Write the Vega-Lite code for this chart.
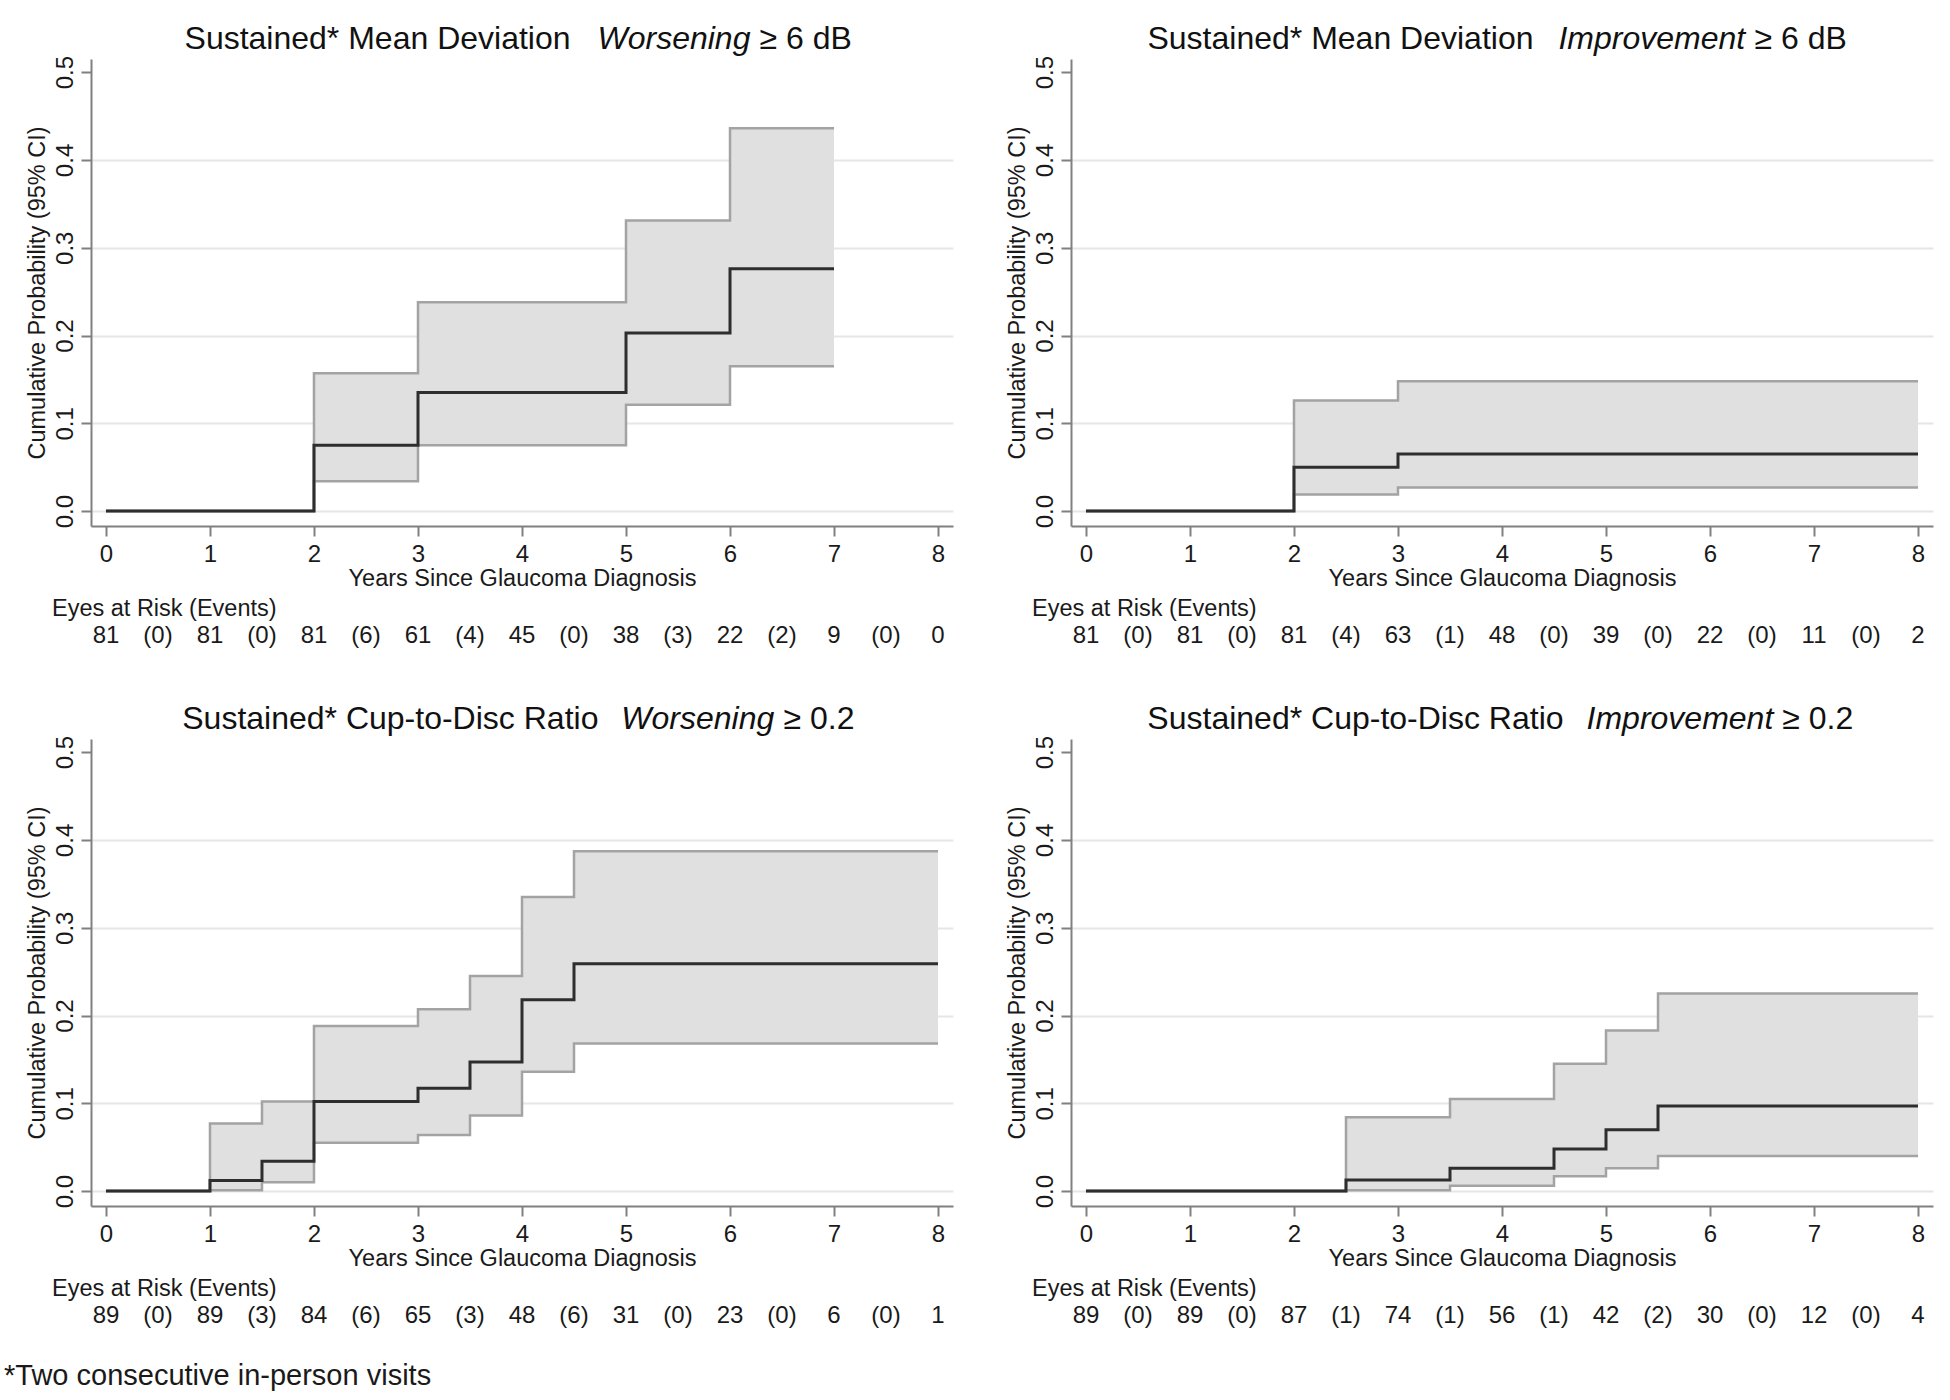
{
  "$schema": "https://vega.github.io/schema/vega-lite/v6.json",
  "background": "white",
  "padding": {"left": 4, "top": 22, "right": 5, "bottom": 10},
  "datasets": {
    "curves": [
      {"panel": "MDW", "t": 0, "est": 0, "lo": 0, "hi": 0},
      {"panel": "MDW", "t": 2, "est": 0.075, "lo": 0.034, "hi": 0.157},
      {"panel": "MDW", "t": 3, "est": 0.135, "lo": 0.075, "hi": 0.238},
      {"panel": "MDW", "t": 5, "est": 0.203, "lo": 0.121, "hi": 0.331},
      {"panel": "MDW", "t": 6, "est": 0.276, "lo": 0.165, "hi": 0.436},
      {"panel": "MDW", "t": 7, "est": 0.276, "lo": 0.165, "hi": 0.436},
      {"panel": "MDI", "t": 0, "est": 0, "lo": 0, "hi": 0},
      {"panel": "MDI", "t": 2, "est": 0.05, "lo": 0.019, "hi": 0.126},
      {"panel": "MDI", "t": 3, "est": 0.065, "lo": 0.027, "hi": 0.148},
      {"panel": "MDI", "t": 8, "est": 0.065, "lo": 0.027, "hi": 0.148},
      {"panel": "CDW", "t": 0, "est": 0, "lo": 0, "hi": 0},
      {"panel": "CDW", "t": 1, "est": 0.012, "lo": 0.001, "hi": 0.077},
      {"panel": "CDW", "t": 1.5, "est": 0.034, "lo": 0.010, "hi": 0.102},
      {"panel": "CDW", "t": 2, "est": 0.102, "lo": 0.055, "hi": 0.188},
      {"panel": "CDW", "t": 3, "est": 0.117, "lo": 0.064, "hi": 0.207},
      {"panel": "CDW", "t": 3.5, "est": 0.147, "lo": 0.086, "hi": 0.245},
      {"panel": "CDW", "t": 4, "est": 0.218, "lo": 0.136, "hi": 0.335},
      {"panel": "CDW", "t": 4.5, "est": 0.259, "lo": 0.168, "hi": 0.387},
      {"panel": "CDW", "t": 8, "est": 0.259, "lo": 0.168, "hi": 0.387},
      {"panel": "CDI", "t": 0, "est": 0, "lo": 0, "hi": 0},
      {"panel": "CDI", "t": 2.5, "est": 0.0126, "lo": 0.001, "hi": 0.084},
      {"panel": "CDI", "t": 3.5, "est": 0.026, "lo": 0.006, "hi": 0.105},
      {"panel": "CDI", "t": 4.5, "est": 0.048, "lo": 0.017, "hi": 0.145},
      {"panel": "CDI", "t": 5, "est": 0.070, "lo": 0.026, "hi": 0.183},
      {"panel": "CDI", "t": 5.5, "est": 0.097, "lo": 0.040, "hi": 0.225},
      {"panel": "CDI", "t": 8, "est": 0.097, "lo": 0.040, "hi": 0.225}
    ],
    "risk": [
      {"panel": "MDW", "t": 0, "n": "81"}, {"panel": "MDW", "t": 0.5, "n": "(0)"},
      {"panel": "MDW", "t": 1, "n": "81"}, {"panel": "MDW", "t": 1.5, "n": "(0)"},
      {"panel": "MDW", "t": 2, "n": "81"}, {"panel": "MDW", "t": 2.5, "n": "(6)"},
      {"panel": "MDW", "t": 3, "n": "61"}, {"panel": "MDW", "t": 3.5, "n": "(4)"},
      {"panel": "MDW", "t": 4, "n": "45"}, {"panel": "MDW", "t": 4.5, "n": "(0)"},
      {"panel": "MDW", "t": 5, "n": "38"}, {"panel": "MDW", "t": 5.5, "n": "(3)"},
      {"panel": "MDW", "t": 6, "n": "22"}, {"panel": "MDW", "t": 6.5, "n": "(2)"},
      {"panel": "MDW", "t": 7, "n": "9"}, {"panel": "MDW", "t": 7.5, "n": "(0)"},
      {"panel": "MDW", "t": 8, "n": "0"},
      {"panel": "MDI", "t": 0, "n": "81"}, {"panel": "MDI", "t": 0.5, "n": "(0)"},
      {"panel": "MDI", "t": 1, "n": "81"}, {"panel": "MDI", "t": 1.5, "n": "(0)"},
      {"panel": "MDI", "t": 2, "n": "81"}, {"panel": "MDI", "t": 2.5, "n": "(4)"},
      {"panel": "MDI", "t": 3, "n": "63"}, {"panel": "MDI", "t": 3.5, "n": "(1)"},
      {"panel": "MDI", "t": 4, "n": "48"}, {"panel": "MDI", "t": 4.5, "n": "(0)"},
      {"panel": "MDI", "t": 5, "n": "39"}, {"panel": "MDI", "t": 5.5, "n": "(0)"},
      {"panel": "MDI", "t": 6, "n": "22"}, {"panel": "MDI", "t": 6.5, "n": "(0)"},
      {"panel": "MDI", "t": 7, "n": "11"}, {"panel": "MDI", "t": 7.5, "n": "(0)"},
      {"panel": "MDI", "t": 8, "n": "2"},
      {"panel": "CDW", "t": 0, "n": "89"}, {"panel": "CDW", "t": 0.5, "n": "(0)"},
      {"panel": "CDW", "t": 1, "n": "89"}, {"panel": "CDW", "t": 1.5, "n": "(3)"},
      {"panel": "CDW", "t": 2, "n": "84"}, {"panel": "CDW", "t": 2.5, "n": "(6)"},
      {"panel": "CDW", "t": 3, "n": "65"}, {"panel": "CDW", "t": 3.5, "n": "(3)"},
      {"panel": "CDW", "t": 4, "n": "48"}, {"panel": "CDW", "t": 4.5, "n": "(6)"},
      {"panel": "CDW", "t": 5, "n": "31"}, {"panel": "CDW", "t": 5.5, "n": "(0)"},
      {"panel": "CDW", "t": 6, "n": "23"}, {"panel": "CDW", "t": 6.5, "n": "(0)"},
      {"panel": "CDW", "t": 7, "n": "6"}, {"panel": "CDW", "t": 7.5, "n": "(0)"},
      {"panel": "CDW", "t": 8, "n": "1"},
      {"panel": "CDI", "t": 0, "n": "89"}, {"panel": "CDI", "t": 0.5, "n": "(0)"},
      {"panel": "CDI", "t": 1, "n": "89"}, {"panel": "CDI", "t": 1.5, "n": "(0)"},
      {"panel": "CDI", "t": 2, "n": "87"}, {"panel": "CDI", "t": 2.5, "n": "(1)"},
      {"panel": "CDI", "t": 3, "n": "74"}, {"panel": "CDI", "t": 3.5, "n": "(1)"},
      {"panel": "CDI", "t": 4, "n": "56"}, {"panel": "CDI", "t": 4.5, "n": "(1)"},
      {"panel": "CDI", "t": 5, "n": "42"}, {"panel": "CDI", "t": 5.5, "n": "(2)"},
      {"panel": "CDI", "t": 6, "n": "30"}, {"panel": "CDI", "t": 6.5, "n": "(0)"},
      {"panel": "CDI", "t": 7, "n": "12"}, {"panel": "CDI", "t": 7.5, "n": "(0)"},
      {"panel": "CDI", "t": 8, "n": "4"}
    ]
  },
  "title": {"text": "*Two consecutive in-person visits", "orient": "bottom", "anchor": "start", "frame": "bounds", "fontSize": 29, "dx": -21, "offset": 33},
  "spacing": 53,
  "vconcat": [
    {
      "spacing": 52,
      "hconcat": [
        {
          "spacing": 6,
          "vconcat": [
            {
              "width": 862, "height": 467,
              "data": {"name": "curves"},
              "transform": [{"filter": "datum.panel == 'MDW'"}],
              "resolve": {"axis": {"x": "independent"}},
              "layer": [
                {
                  "mark": {"type": "area", "interpolate": "step-after", "color": "#e0e0e0"},
                  "encoding": {
                    "x": {"field": "t", "type": "quantitative", "scale": {"domain": [-0.144, 8.144], "nice": false, "zero": false},
                      "axis": {"orient": "top", "values": [4.462, 4.721, 6.279], "labelExpr": "datum.value < 4.6 ? 'Sustained* Mean Deviation' : datum.value < 5.5 ? 'Worsening' : '≥ 6 dB'", "labelAlign": {"condition": {"test": "datum.value < 4.6", "value": "right"}, "value": "left"}, "labelFontStyle": {"condition": {"test": "datum.value > 4.6 && datum.value < 5.5", "value": "italic"}, "value": "normal"}, "labelFontSize": 32, "labelLimit": 0, "labelColor": "#111111", "labelBaseline": "alphabetic", "labelPadding": 11, "labelFlush": false, "labelOverlap": false, "labelBound": false, "domain": false, "ticks": false, "tickSize": 0, "grid": false, "title": null}},
                    "y": {"field": "hi", "type": "quantitative", "scale": {"domain": [-0.017, 0.515], "nice": false, "zero": false}, "title": "Cumulative Probability (95% CI)",
                      "axis": {"values": [0, 0.1, 0.2, 0.3, 0.4, 0.5], "format": ".1f", "labelAngle": 270, "labelAlign": "center", "labelBaseline": "bottom", "labelFontSize": 24, "labelPadding": 4, "tickSize": 10, "grid": true, "gridColor": {"condition": {"test": "datum.value > 0.45", "value": "rgba(0,0,0,0)"}, "value": "#e6e6e6"}, "gridWidth": 2, "titleFontSize": 23.5, "titlePadding": 4, "labelFlush": false, "labelOverlap": false}},
                    "y2": {"field": "lo"}
                  }
                },
                {
                  "mark": {"type": "line", "interpolate": "step-after", "color": "#a3a3a3", "strokeWidth": 2.5},
                  "encoding": {
                    "x": {"field": "t", "type": "quantitative", "scale": {"domain": [-0.144, 8.144], "nice": false, "zero": false}, "axis": null},
                    "y": {"field": "hi", "type": "quantitative", "title": "Cumulative Probability (95% CI)"}
                  }
                },
                {
                  "mark": {"type": "line", "interpolate": "step-after", "color": "#a3a3a3", "strokeWidth": 2.5},
                  "encoding": {
                    "x": {"field": "t", "type": "quantitative", "scale": {"domain": [-0.144, 8.144], "nice": false, "zero": false}, "axis": null},
                    "y": {"field": "lo", "type": "quantitative", "title": "Cumulative Probability (95% CI)"}
                  }
                },
                {
                  "mark": {"type": "line", "interpolate": "step-after", "color": "#2e2e2e", "strokeWidth": 3},
                  "encoding": {
                    "x": {"field": "t", "type": "quantitative", "scale": {"domain": [-0.144, 8.144], "nice": false, "zero": false},
                      "axis": {"orient": "bottom", "values": [0, 1, 2, 3, 4, 5, 6, 7, 8], "format": "d", "title": "Years Since Glaucoma Diagnosis", "grid": false, "labelFontSize": 24, "labelPadding": 6, "tickSize": 10, "titleFontSize": 23.5, "titlePadding": 0, "labelFlush": false}},
                    "y": {"field": "est", "type": "quantitative", "title": "Cumulative Probability (95% CI)"}
                  }
                }
              ]
            },
            {
              "width": 862, "height": 27,
              "data": {"name": "risk"},
              "transform": [{"filter": "datum.panel == 'MDW'"}],
              "title": {"text": "Eyes at Risk (Events)", "anchor": "start", "dx": -39, "fontSize": 23.5, "offset": 2},
              "mark": {"type": "text", "fontSize": 24, "color": "#1a1a1a"},
              "encoding": {
                "x": {"field": "t", "type": "quantitative", "scale": {"domain": [-0.144, 8.144], "nice": false, "zero": false}, "axis": null},
                "text": {"field": "n"}
              }
            }
          ]
        },
        {
          "spacing": 6,
          "vconcat": [
            {
              "width": 862, "height": 467,
              "data": {"name": "curves"},
              "transform": [{"filter": "datum.panel == 'MDI'"}],
              "resolve": {"axis": {"x": "independent"}},
              "layer": [
                {
                  "mark": {"type": "area", "interpolate": "step-after", "color": "#e0e0e0"},
                  "encoding": {
                    "x": {"field": "t", "type": "quantitative", "scale": {"domain": [-0.144, 8.144], "nice": false, "zero": false},
                      "axis": {"orient": "top", "values": [4.298, 4.538, 6.423], "labelExpr": "datum.value < 4.4 ? 'Sustained* Mean Deviation' : datum.value < 5.5 ? 'Improvement' : '≥ 6 dB'", "labelAlign": {"condition": {"test": "datum.value < 4.4", "value": "right"}, "value": "left"}, "labelFontStyle": {"condition": {"test": "datum.value > 4.4 && datum.value < 5.5", "value": "italic"}, "value": "normal"}, "labelFontSize": 32, "labelLimit": 0, "labelColor": "#111111", "labelBaseline": "alphabetic", "labelPadding": 11, "labelFlush": false, "labelOverlap": false, "labelBound": false, "domain": false, "ticks": false, "tickSize": 0, "grid": false, "title": null}},
                    "y": {"field": "hi", "type": "quantitative", "scale": {"domain": [-0.017, 0.515], "nice": false, "zero": false}, "title": "Cumulative Probability (95% CI)",
                      "axis": {"values": [0, 0.1, 0.2, 0.3, 0.4, 0.5], "format": ".1f", "labelAngle": 270, "labelAlign": "center", "labelBaseline": "bottom", "labelFontSize": 24, "labelPadding": 4, "tickSize": 10, "grid": true, "gridColor": {"condition": {"test": "datum.value > 0.45", "value": "rgba(0,0,0,0)"}, "value": "#e6e6e6"}, "gridWidth": 2, "titleFontSize": 23.5, "titlePadding": 4, "labelFlush": false, "labelOverlap": false}},
                    "y2": {"field": "lo"}
                  }
                },
                {
                  "mark": {"type": "line", "interpolate": "step-after", "color": "#a3a3a3", "strokeWidth": 2.5},
                  "encoding": {
                    "x": {"field": "t", "type": "quantitative", "scale": {"domain": [-0.144, 8.144], "nice": false, "zero": false}, "axis": null},
                    "y": {"field": "hi", "type": "quantitative", "title": "Cumulative Probability (95% CI)"}
                  }
                },
                {
                  "mark": {"type": "line", "interpolate": "step-after", "color": "#a3a3a3", "strokeWidth": 2.5},
                  "encoding": {
                    "x": {"field": "t", "type": "quantitative", "scale": {"domain": [-0.144, 8.144], "nice": false, "zero": false}, "axis": null},
                    "y": {"field": "lo", "type": "quantitative", "title": "Cumulative Probability (95% CI)"}
                  }
                },
                {
                  "mark": {"type": "line", "interpolate": "step-after", "color": "#2e2e2e", "strokeWidth": 3},
                  "encoding": {
                    "x": {"field": "t", "type": "quantitative", "scale": {"domain": [-0.144, 8.144], "nice": false, "zero": false},
                      "axis": {"orient": "bottom", "values": [0, 1, 2, 3, 4, 5, 6, 7, 8], "format": "d", "title": "Years Since Glaucoma Diagnosis", "grid": false, "labelFontSize": 24, "labelPadding": 6, "tickSize": 10, "titleFontSize": 23.5, "titlePadding": 0, "labelFlush": false}},
                    "y": {"field": "est", "type": "quantitative", "title": "Cumulative Probability (95% CI)"}
                  }
                }
              ]
            },
            {
              "width": 862, "height": 27,
              "data": {"name": "risk"},
              "transform": [{"filter": "datum.panel == 'MDI'"}],
              "title": {"text": "Eyes at Risk (Events)", "anchor": "start", "dx": -39, "fontSize": 23.5, "offset": 2},
              "mark": {"type": "text", "fontSize": 24, "color": "#1a1a1a"},
              "encoding": {
                "x": {"field": "t", "type": "quantitative", "scale": {"domain": [-0.144, 8.144], "nice": false, "zero": false}, "axis": null},
                "text": {"field": "n"}
              }
            }
          ]
        }
      ]
    },
    {
      "spacing": 52,
      "hconcat": [
        {
          "spacing": 6,
          "vconcat": [
            {
              "width": 862, "height": 467,
              "data": {"name": "curves"},
              "transform": [{"filter": "datum.panel == 'CDW'"}],
              "resolve": {"axis": {"x": "independent"}},
              "layer": [
                {
                  "mark": {"type": "area", "interpolate": "step-after", "color": "#e0e0e0"},
                  "encoding": {
                    "x": {"field": "t", "type": "quantitative", "scale": {"domain": [-0.144, 8.144], "nice": false, "zero": false},
                      "axis": {"orient": "top", "values": [4.73, 4.95, 6.51], "labelExpr": "datum.value < 4.85 ? 'Sustained* Cup-to-Disc Ratio' : datum.value < 5.7 ? 'Worsening' : '≥ 0.2'", "labelAlign": {"condition": {"test": "datum.value < 4.85", "value": "right"}, "value": "left"}, "labelFontStyle": {"condition": {"test": "datum.value > 4.85 && datum.value < 5.7", "value": "italic"}, "value": "normal"}, "labelFontSize": 32, "labelLimit": 0, "labelColor": "#111111", "labelBaseline": "alphabetic", "labelPadding": 11, "labelFlush": false, "labelOverlap": false, "labelBound": false, "domain": false, "ticks": false, "tickSize": 0, "grid": false, "title": null}},
                    "y": {"field": "hi", "type": "quantitative", "scale": {"domain": [-0.017, 0.515], "nice": false, "zero": false}, "title": "Cumulative Probability (95% CI)",
                      "axis": {"values": [0, 0.1, 0.2, 0.3, 0.4, 0.5], "format": ".1f", "labelAngle": 270, "labelAlign": "center", "labelBaseline": "bottom", "labelFontSize": 24, "labelPadding": 4, "tickSize": 10, "grid": true, "gridColor": {"condition": {"test": "datum.value > 0.45", "value": "rgba(0,0,0,0)"}, "value": "#e6e6e6"}, "gridWidth": 2, "titleFontSize": 23.5, "titlePadding": 4, "labelFlush": false, "labelOverlap": false}},
                    "y2": {"field": "lo"}
                  }
                },
                {
                  "mark": {"type": "line", "interpolate": "step-after", "color": "#a3a3a3", "strokeWidth": 2.5},
                  "encoding": {
                    "x": {"field": "t", "type": "quantitative", "scale": {"domain": [-0.144, 8.144], "nice": false, "zero": false}, "axis": null},
                    "y": {"field": "hi", "type": "quantitative", "title": "Cumulative Probability (95% CI)"}
                  }
                },
                {
                  "mark": {"type": "line", "interpolate": "step-after", "color": "#a3a3a3", "strokeWidth": 2.5},
                  "encoding": {
                    "x": {"field": "t", "type": "quantitative", "scale": {"domain": [-0.144, 8.144], "nice": false, "zero": false}, "axis": null},
                    "y": {"field": "lo", "type": "quantitative", "title": "Cumulative Probability (95% CI)"}
                  }
                },
                {
                  "mark": {"type": "line", "interpolate": "step-after", "color": "#2e2e2e", "strokeWidth": 3},
                  "encoding": {
                    "x": {"field": "t", "type": "quantitative", "scale": {"domain": [-0.144, 8.144], "nice": false, "zero": false},
                      "axis": {"orient": "bottom", "values": [0, 1, 2, 3, 4, 5, 6, 7, 8], "format": "d", "title": "Years Since Glaucoma Diagnosis", "grid": false, "labelFontSize": 24, "labelPadding": 6, "tickSize": 10, "titleFontSize": 23.5, "titlePadding": 0, "labelFlush": false}},
                    "y": {"field": "est", "type": "quantitative", "title": "Cumulative Probability (95% CI)"}
                  }
                }
              ]
            },
            {
              "width": 862, "height": 27,
              "data": {"name": "risk"},
              "transform": [{"filter": "datum.panel == 'CDW'"}],
              "title": {"text": "Eyes at Risk (Events)", "anchor": "start", "dx": -39, "fontSize": 23.5, "offset": 2},
              "mark": {"type": "text", "fontSize": 24, "color": "#1a1a1a"},
              "encoding": {
                "x": {"field": "t", "type": "quantitative", "scale": {"domain": [-0.144, 8.144], "nice": false, "zero": false}, "axis": null},
                "text": {"field": "n"}
              }
            }
          ]
        },
        {
          "spacing": 6,
          "vconcat": [
            {
              "width": 862, "height": 467,
              "data": {"name": "curves"},
              "transform": [{"filter": "datum.panel == 'CDI'"}],
              "resolve": {"axis": {"x": "independent"}},
              "layer": [
                {
                  "mark": {"type": "area", "interpolate": "step-after", "color": "#e0e0e0"},
                  "encoding": {
                    "x": {"field": "t", "type": "quantitative", "scale": {"domain": [-0.144, 8.144], "nice": false, "zero": false},
                      "axis": {"orient": "top", "values": [4.587, 4.808, 6.69], "labelExpr": "datum.value < 4.7 ? 'Sustained* Cup-to-Disc Ratio' : datum.value < 5.7 ? 'Improvement' : '≥ 0.2'", "labelAlign": {"condition": {"test": "datum.value < 4.7", "value": "right"}, "value": "left"}, "labelFontStyle": {"condition": {"test": "datum.value > 4.7 && datum.value < 5.7", "value": "italic"}, "value": "normal"}, "labelFontSize": 32, "labelLimit": 0, "labelColor": "#111111", "labelBaseline": "alphabetic", "labelPadding": 11, "labelFlush": false, "labelOverlap": false, "labelBound": false, "domain": false, "ticks": false, "tickSize": 0, "grid": false, "title": null}},
                    "y": {"field": "hi", "type": "quantitative", "scale": {"domain": [-0.017, 0.515], "nice": false, "zero": false}, "title": "Cumulative Probability (95% CI)",
                      "axis": {"values": [0, 0.1, 0.2, 0.3, 0.4, 0.5], "format": ".1f", "labelAngle": 270, "labelAlign": "center", "labelBaseline": "bottom", "labelFontSize": 24, "labelPadding": 4, "tickSize": 10, "grid": true, "gridColor": {"condition": {"test": "datum.value > 0.45", "value": "rgba(0,0,0,0)"}, "value": "#e6e6e6"}, "gridWidth": 2, "titleFontSize": 23.5, "titlePadding": 4, "labelFlush": false, "labelOverlap": false}},
                    "y2": {"field": "lo"}
                  }
                },
                {
                  "mark": {"type": "line", "interpolate": "step-after", "color": "#a3a3a3", "strokeWidth": 2.5},
                  "encoding": {
                    "x": {"field": "t", "type": "quantitative", "scale": {"domain": [-0.144, 8.144], "nice": false, "zero": false}, "axis": null},
                    "y": {"field": "hi", "type": "quantitative", "title": "Cumulative Probability (95% CI)"}
                  }
                },
                {
                  "mark": {"type": "line", "interpolate": "step-after", "color": "#a3a3a3", "strokeWidth": 2.5},
                  "encoding": {
                    "x": {"field": "t", "type": "quantitative", "scale": {"domain": [-0.144, 8.144], "nice": false, "zero": false}, "axis": null},
                    "y": {"field": "lo", "type": "quantitative", "title": "Cumulative Probability (95% CI)"}
                  }
                },
                {
                  "mark": {"type": "line", "interpolate": "step-after", "color": "#2e2e2e", "strokeWidth": 3},
                  "encoding": {
                    "x": {"field": "t", "type": "quantitative", "scale": {"domain": [-0.144, 8.144], "nice": false, "zero": false},
                      "axis": {"orient": "bottom", "values": [0, 1, 2, 3, 4, 5, 6, 7, 8], "format": "d", "title": "Years Since Glaucoma Diagnosis", "grid": false, "labelFontSize": 24, "labelPadding": 6, "tickSize": 10, "titleFontSize": 23.5, "titlePadding": 0, "labelFlush": false}},
                    "y": {"field": "est", "type": "quantitative", "title": "Cumulative Probability (95% CI)"}
                  }
                }
              ]
            },
            {
              "width": 862, "height": 27,
              "data": {"name": "risk"},
              "transform": [{"filter": "datum.panel == 'CDI'"}],
              "title": {"text": "Eyes at Risk (Events)", "anchor": "start", "dx": -39, "fontSize": 23.5, "offset": 2},
              "mark": {"type": "text", "fontSize": 24, "color": "#1a1a1a"},
              "encoding": {
                "x": {"field": "t", "type": "quantitative", "scale": {"domain": [-0.144, 8.144], "nice": false, "zero": false}, "axis": null},
                "text": {"field": "n"}
              }
            }
          ]
        }
      ]
    }
  ],
  "config": {
    "font": "Liberation Sans",
    "view": {"stroke": null},
    "axis": {"labelFont": "Liberation Sans", "titleFont": "Liberation Sans", "labelColor": "#1a1a1a", "titleColor": "#1a1a1a", "titleFontWeight": "normal", "domainColor": "#808080", "tickColor": "#808080", "domainWidth": 2, "tickWidth": 2},
    "title": {"font": "Liberation Sans", "fontWeight": "normal", "color": "#1a1a1a"},
    "text": {"font": "Liberation Sans"}
  }
}
